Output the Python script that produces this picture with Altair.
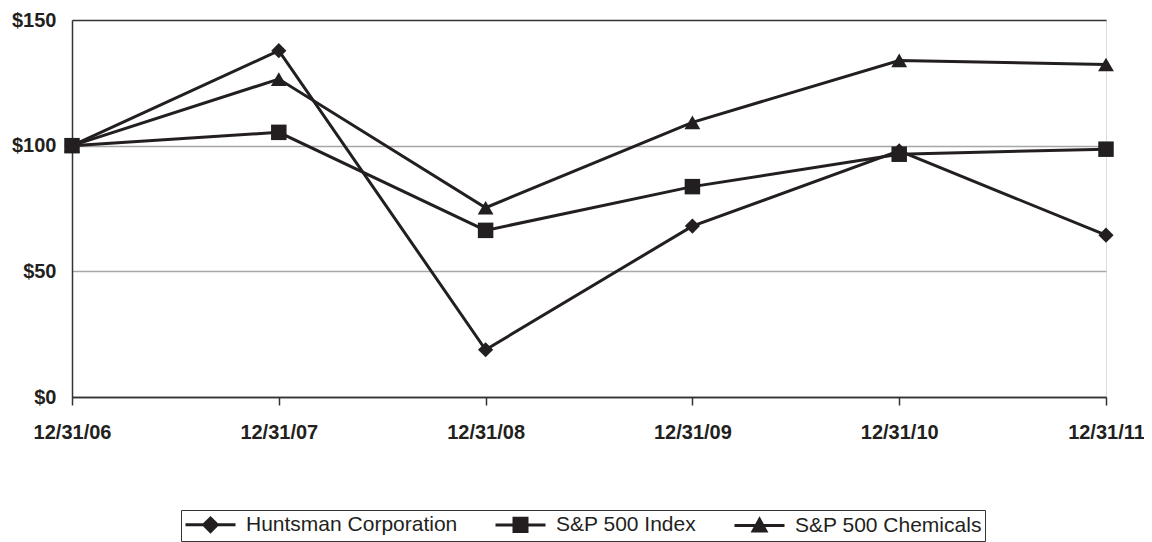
import altair as alt
import pandas as pd

dates = ["12/31/06", "12/31/07", "12/31/08", "12/31/09", "12/31/10", "12/31/11"]
series_names = ["Huntsman Corporation", "S&P 500 Index", "S&P 500 Chemicals"]
huntsman = [100, 137.8, 18.8, 68.0, 97.9, 64.4]
sp500 = [100, 105.3, 66.3, 83.7, 96.6, 98.6]
chemicals = [100, 126.5, 75.3, 109.3, 133.9, 132.3]
y_ticks = [0, 50, 100, 150]

rows = []
for name, vals in zip(series_names, [huntsman, sp500, chemicals]):
    for i, (d, v) in enumerate(zip(dates, vals)):
        rows.append({"date": d, "value": v, "series": name, "order": i})
df = pd.DataFrame(rows)

INK = "#231f20"
FRAME = "#333333"
FONT = "Liberation Sans"

x = alt.X(
    "date:O", sort=dates, scale=alt.Scale(padding=0),
    axis=alt.Axis(title=None, labelAngle=0, labelFont=FONT, labelFontWeight="bold",
                  labelFontSize=20, labelColor=INK, tickSize=8, tickColor=FRAME,
                  tickWidth=1.5, labelPadding=17, domainColor=FRAME, domainWidth=1.5,
                  grid=False),
)
y = alt.Y(
    "value:Q", scale=alt.Scale(domain=[0, 150], nice=False),
    axis=alt.Axis(title=None, values=y_ticks, labelExpr="'$' + datum.value", ticks=False,
                  labelPadding=16, labelFont=FONT, labelFontWeight="bold", labelFontSize=20,
                  labelColor=INK, domainColor=FRAME, domainWidth=1.5, grid=True,
                  gridColor=alt.condition("datum.value == 150 || datum.value == 0",
                                          alt.value(FRAME), alt.value("#a6a6a6")),
                  gridWidth=1.5),
)

lines = alt.Chart(df).mark_line(color=INK, strokeWidth=3).encode(
    x=x, y=y, detail="series:N", order="order:Q"
)

points = alt.Chart(df).mark_point(filled=True, color=INK, opacity=1).encode(
    x=x, y=y,
    shape=alt.Shape("series:N", scale=alt.Scale(domain=series_names,
                                                range=["diamond", "square", "triangle-up"]),
                    legend=None),
    size=alt.Size("series:N", scale=alt.Scale(domain=series_names, range=[230, 250, 230]),
                  legend=None),
)

legend_paths = [
    "M-1,0H4M1.5,-0.68L2.18,0L1.5,0.68L0.82,0Z",
    "M-1,0H4M0.85,-0.66H2.15V0.66H0.85Z",
    "M-1,0H4M1.5,-0.62L2.14,0.55H0.86Z",
]

legend_layer = alt.Chart(df).transform_filter("false").mark_point(
    filled=True, fill=INK, stroke=INK, strokeWidth=3, size=400, opacity=1
).encode(
    x=x, y=y,
    shape=alt.Shape(
        "series:N",
        scale=alt.Scale(domain=series_names, range=legend_paths),
        legend=alt.Legend(
            title=None, orient="none", legendX=109, legendY=490, direction="horizontal",
            strokeColor=FRAME, padding=3, columnPadding=31, labelOffset=39,
            labelFont=FONT, labelFontSize=21, labelColor=INK, labelLimit=400,
            symbolSize=400, symbolStrokeWidth=3, symbolOpacity=1,
        ),
    ),
)

chart = alt.layer(lines, points, legend_layer).resolve_scale(
    shape="independent", size="independent"
).properties(
    width=1034, height=377,
    autosize=alt.AutoSizeParams(type="none"),
    padding={"left": 64, "top": 12, "right": 38, "bottom": 145},
).configure_view(stroke=FRAME, strokeWidth=1.5).configure(background="white")

chart.save("out.html", embed_options={"renderer": "svg", "actions": False})
